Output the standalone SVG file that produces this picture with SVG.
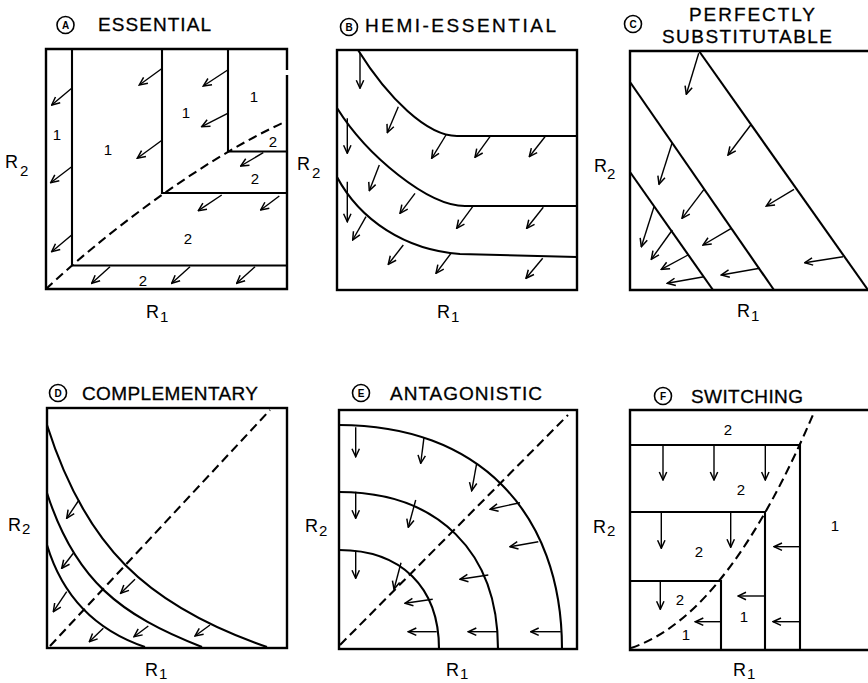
<svg xmlns="http://www.w3.org/2000/svg" width="868" height="683" viewBox="0 0 868 683">
<style>
.bg{fill:#fff}
.box{fill:none;stroke:#000;stroke-width:2.4}
.ln{fill:none;stroke:#000;stroke-width:2.1}
.ds{fill:none;stroke:#000;stroke-width:2.1;stroke-dasharray:9 5}
.ar{fill:none;stroke:#000;stroke-width:1.4;marker-end:url(#ah)}
.ttl{font-family:"Liberation Sans",Arial,sans-serif;font-size:19px;fill:#000;stroke:#000;stroke-width:0.3}
.cl{fill:none;stroke:#000;stroke-width:1.6}
.cll{font-family:"Liberation Sans",Arial,sans-serif;font-size:10px;font-weight:bold;fill:#000;text-anchor:middle}
.ax{font-family:"Liberation Sans",Arial,sans-serif;font-size:18px;fill:#000}
.sub{font-size:15px}
.num{font-family:"Liberation Sans",Arial,sans-serif;font-size:15px;fill:#000;text-anchor:middle}
</style>
<defs>
<marker id="ah" viewBox="0 0 10 10" refX="9" refY="5" markerWidth="10" markerHeight="10" markerUnits="userSpaceOnUse" orient="auto">
<path d="M1,1.3 L9,5 L1,8.7" fill="none" stroke="#000" stroke-width="1.5"/>
</marker>
</defs>
<rect class="bg" x="0" y="0" width="868" height="683"/>

<!-- Panel A -->
<g id="panel-a">
<circle class="cl" cx="65.5" cy="25" r="8.5"/><text class="cll" x="65.5" y="28.6">A</text>
<text class="ttl" x="98" y="31" textLength="113" lengthAdjust="spacing">ESSENTIAL</text>
<path class="box" d="M287,70 L287,49 L46,49 L46,289 L287,289 L287,75"/>
<path class="ln" d="M72,49 V265.5 H287"/>
<path class="ln" d="M162,49 V193 H287"/>
<path class="ln" d="M228,49 V151.5 H287"/>
<path class="ds" d="M46,289 C100,238 200,160 287,121"/>
<text class="num" x="57" y="140">1</text>
<text class="num" x="108" y="155">1</text>
<text class="num" x="186" y="118">1</text>
<text class="num" x="254" y="102">1</text>
<text class="num" x="273" y="147">2</text>
<text class="num" x="255" y="184">2</text>
<text class="num" x="188" y="244">2</text>
<text class="num" x="143" y="286">2</text>
<text class="ax" x="5" y="168">R<tspan class="sub" x="20" y="176">2</tspan></text>
<text class="ax" x="146" y="318">R<tspan class="sub" x="160" y="322">1</tspan></text>
</g>

<!-- Panel B -->
<g id="panel-b">
<circle class="cl" cx="349" cy="27" r="8.5"/><text class="cll" x="349" y="30.6">B</text>
<text class="ttl" x="365" y="32" textLength="191" lengthAdjust="spacing">HEMI-ESSENTIAL</text>
<rect class="box" x="337" y="50" width="240" height="240"/>
<path class="ln" d="M358,50 C388,98 427,136 457,136 L577,136"/>
<path class="ln" d="M337,108 C367,156 428,206 465,206 L577,206"/>
<path class="ln" d="M337,177 C360,220 405,250 460,254 L577,257"/>
<text class="ax" x="297" y="170">R<tspan class="sub" x="312" y="178">2</tspan></text>
<text class="ax" x="437" y="318">R<tspan class="sub" x="451" y="322">1</tspan></text>
</g>

<!-- Panel C -->
<g id="panel-c">
<circle class="cl" cx="633" cy="24" r="8.5"/><text class="cll" x="633" y="27.6">C</text>
<text class="ttl" x="689" y="21" textLength="126" lengthAdjust="spacing">PERFECTLY</text>
<text class="ttl" x="662" y="43" textLength="170" lengthAdjust="spacing">SUBSTITUTABLE</text>
<path class="box" d="M869,51 H630 V290 H869"/>
<path class="ln" d="M699,51 L868,290"/>
<path class="ln" d="M630,82 L774,290"/>
<path class="ln" d="M630,172 L713,290"/>
<text class="ax" x="594" y="172">R<tspan class="sub" x="607" y="179">2</tspan></text>
<text class="ax" x="737" y="317">R<tspan class="sub" x="751" y="321">1</tspan></text>
</g>

<!-- Panel D -->
<g id="panel-d">
<circle class="cl" cx="58" cy="393" r="8.5"/><text class="cll" x="58" y="396.6">D</text>
<text class="ttl" x="82" y="400" textLength="176" lengthAdjust="spacing">COMPLEMENTARY</text>
<rect class="box" x="47" y="408" width="240" height="240"/>
<path class="ds" d="M50,646 L270,410"/>
<path class="ln" d="M47,425 C85,545 145,605 267,647"/>
<path class="ln" d="M47,493 C75,580 120,615 202,647"/>
<path class="ln" d="M47,545 C62,595 95,630 145,647"/>
<text class="ax" x="8" y="531">R<tspan class="sub" x="22" y="534">2</tspan></text>
<text class="ax" x="145" y="676">R<tspan class="sub" x="159" y="679">1</tspan></text>
</g>

<!-- Panel E -->
<g id="panel-e">
<circle class="cl" cx="361" cy="393" r="8.5"/><text class="cll" x="361" y="396.6">E</text>
<text class="ttl" x="390" y="400" textLength="152" lengthAdjust="spacing">ANTAGONISTIC</text>
<rect class="box" x="339" y="410" width="238" height="239"/>
<path class="ds" d="M340,645 L568,415"/>
<path class="ln" d="M339,425 C477,425 562,511 562,649"/>
<path class="ln" d="M339,492 C438,492 498,552 498,649"/>
<path class="ln" d="M339,550 C401,550 439,587 439,649"/>
<text class="ax" x="305" y="532">R<tspan class="sub" x="319" y="536">2</tspan></text>
<text class="ax" x="446" y="676">R<tspan class="sub" x="460" y="679">1</tspan></text>
</g>

<!-- Panel F -->
<g id="panel-f">
<circle class="cl" cx="663" cy="396" r="8.5"/><text class="cll" x="663" y="399.6">F</text>
<text class="ttl" x="691" y="403" textLength="112" lengthAdjust="spacing">SWITCHING</text>
<path class="box" d="M869,410 H630 V650 H869"/>
<path class="ln" d="M630,445 H800 V650"/>
<path class="ln" d="M630,512 H765 V650"/>
<path class="ln" d="M630,581 H721 V650"/>
<path class="ds" d="M631,648 C700,625 760,540 815,410"/>
<text class="num" x="728" y="435">2</text>
<text class="num" x="741" y="495">2</text>
<text class="num" x="699" y="557">2</text>
<text class="num" x="680" y="605">2</text>
<text class="num" x="686" y="640">1</text>
<text class="num" x="744" y="622">1</text>
<text class="num" x="835" y="531">1</text>
<text class="ax" x="593" y="533">R<tspan class="sub" x="607" y="536">2</tspan></text>
<text class="ax" x="733" y="676">R<tspan class="sub" x="747" y="679">1</tspan></text>
</g>

<!-- Arrows (connectors) -->
<g id="arrows">
<line class="ar" x1="71.7" y1="88.3" x2="51.7" y2="105"/>
<line class="ar" x1="71.7" y1="166.7" x2="50.7" y2="182.7"/>
<line class="ar" x1="71.7" y1="235" x2="51.7" y2="251.7"/>
<line class="ar" x1="110" y1="266.7" x2="91.7" y2="283.3"/>
<line class="ar" x1="190" y1="266.7" x2="171.7" y2="283.3"/>
<line class="ar" x1="255" y1="266.7" x2="236.7" y2="283.3"/>
<line class="ar" x1="162.3" y1="68.3" x2="139.3" y2="85"/>
<line class="ar" x1="162.3" y1="140" x2="137.3" y2="158.3"/>
<line class="ar" x1="227.7" y1="70" x2="203.3" y2="86"/>
<line class="ar" x1="227.7" y1="113.3" x2="201.7" y2="126.7"/>
<line class="ar" x1="221.7" y1="195" x2="198.3" y2="210.7"/>
<line class="ar" x1="279.3" y1="196" x2="260.7" y2="210"/>
<line class="ar" x1="263.3" y1="152.7" x2="240.7" y2="166"/>

<line class="ar" x1="360" y1="53" x2="360" y2="88.3"/>
<line class="ar" x1="398.3" y1="106.7" x2="387.3" y2="132.7"/>
<line class="ar" x1="446" y1="135" x2="431.7" y2="158.3"/>
<line class="ar" x1="490" y1="136.7" x2="475" y2="157.3"/>
<line class="ar" x1="545" y1="136.7" x2="529.3" y2="156.7"/>
<line class="ar" x1="347.3" y1="118.3" x2="347.3" y2="153.3"/>
<line class="ar" x1="379.3" y1="165" x2="369.3" y2="190.7"/>
<line class="ar" x1="415" y1="193.3" x2="400" y2="213.3"/>
<line class="ar" x1="472.7" y1="206.7" x2="456.7" y2="228.3"/>
<line class="ar" x1="543.3" y1="207.3" x2="526.7" y2="228.3"/>
<line class="ar" x1="347.3" y1="181.7" x2="347.3" y2="221.7"/>
<line class="ar" x1="366" y1="216.7" x2="352.7" y2="240"/>
<line class="ar" x1="403.3" y1="245" x2="388.3" y2="264.3"/>
<line class="ar" x1="451" y1="253.3" x2="436" y2="273.3"/>
<line class="ar" x1="542.7" y1="258.3" x2="526" y2="278.3"/>

<line class="ar" x1="698.7" y1="53.3" x2="686.3" y2="94.3"/>
<line class="ar" x1="750.7" y1="125" x2="728" y2="155"/>
<line class="ar" x1="794" y1="189.3" x2="766.3" y2="206"/>
<line class="ar" x1="843" y1="256.7" x2="804.7" y2="262.7"/>
<line class="ar" x1="672" y1="143.3" x2="659" y2="184.3"/>
<line class="ar" x1="704" y1="189.3" x2="682" y2="218.3"/>
<line class="ar" x1="731.3" y1="228.3" x2="703" y2="245"/>
<line class="ar" x1="759.7" y1="268.3" x2="721.3" y2="275"/>
<line class="ar" x1="654" y1="206.7" x2="641.3" y2="246.7"/>
<line class="ar" x1="672.3" y1="230" x2="651.3" y2="259.3"/>
<line class="ar" x1="688" y1="255" x2="661.3" y2="269.3"/>
<line class="ar" x1="704" y1="276.7" x2="667.3" y2="283.3"/>

<line class="ar" x1="79" y1="500" x2="66.7" y2="518.3"/>
<line class="ar" x1="73.3" y1="553.3" x2="61.7" y2="568.3"/>
<line class="ar" x1="66.7" y1="591.7" x2="53.3" y2="611.7"/>
<line class="ar" x1="135" y1="579.3" x2="120.7" y2="593.3"/>
<line class="ar" x1="148.3" y1="626" x2="134" y2="636.7"/>
<line class="ar" x1="103.3" y1="628.3" x2="89.3" y2="641.7"/>
<line class="ar" x1="210" y1="625" x2="195" y2="636"/>

<line class="ar" x1="355.7" y1="427.3" x2="355.7" y2="456.7"/>
<line class="ar" x1="424" y1="437.3" x2="420.7" y2="463.3"/>
<line class="ar" x1="476.7" y1="463.3" x2="471.7" y2="490.7"/>
<line class="ar" x1="520" y1="502.7" x2="490" y2="509.3"/>
<line class="ar" x1="538.3" y1="541.7" x2="510" y2="546.7"/>
<line class="ar" x1="560.7" y1="631.7" x2="530.7" y2="631.7"/>
<line class="ar" x1="355.7" y1="491.7" x2="355.7" y2="518.3"/>
<line class="ar" x1="415.7" y1="500" x2="408.3" y2="527.3"/>
<line class="ar" x1="488.3" y1="575" x2="460" y2="579.3"/>
<line class="ar" x1="497.3" y1="631.7" x2="468.3" y2="631.7"/>
<line class="ar" x1="355.7" y1="550.7" x2="355.7" y2="578.3"/>
<line class="ar" x1="401" y1="562.7" x2="394" y2="589.3"/>
<line class="ar" x1="432.7" y1="599.3" x2="405" y2="603.3"/>
<line class="ar" x1="436.7" y1="631.7" x2="408.3" y2="631.7"/>

<line class="ar" x1="663" y1="446" x2="663" y2="480"/>
<line class="ar" x1="714" y1="446" x2="714" y2="480"/>
<line class="ar" x1="765.3" y1="446" x2="765.3" y2="480"/>
<line class="ar" x1="661.3" y1="512.7" x2="661.3" y2="548.3"/>
<line class="ar" x1="730.7" y1="512.7" x2="730.7" y2="547.3"/>
<line class="ar" x1="660.3" y1="581.7" x2="660.3" y2="609.3"/>
<line class="ar" x1="799.7" y1="546.7" x2="774" y2="546.7"/>
<line class="ar" x1="799.7" y1="621.7" x2="773" y2="621.7"/>
<line class="ar" x1="764.7" y1="596" x2="738" y2="596"/>
<line class="ar" x1="720.7" y1="621.7" x2="695.3" y2="621.7"/>
</g>
</svg>
